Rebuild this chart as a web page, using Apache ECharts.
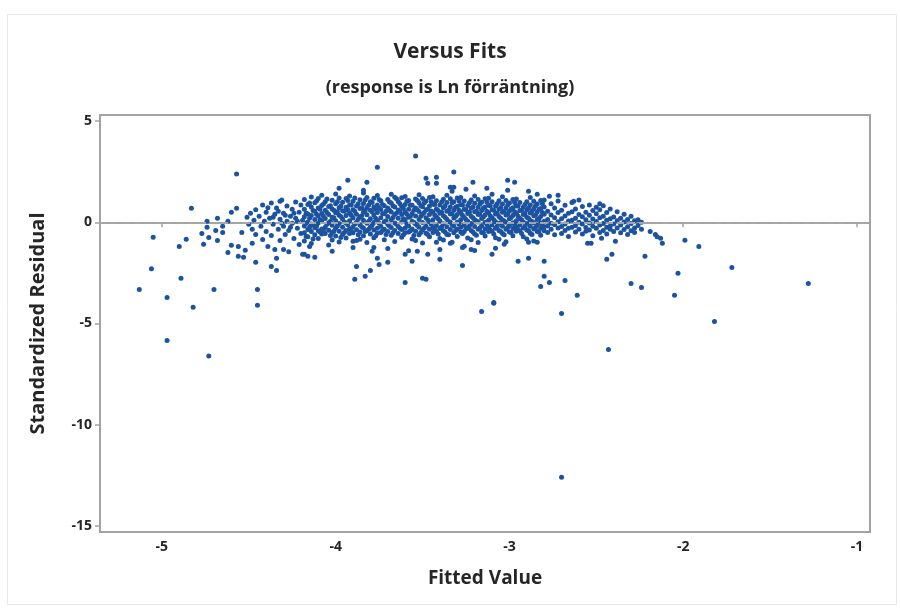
<!DOCTYPE html>
<html>
<head>
<meta charset="utf-8">
<script src="https://cdn.jsdelivr.net/npm/echarts@6/dist/echarts.min.js"></script>
<style>html,body{margin:0;padding:0;background:#fff}#c{width:900px;height:608px}</style>
</head>
<body>
<div id="c"></div>
<script>
const titleText = 'Versus Fits';
const subtitleText = '(response is Ln förräntning)';
const xAxisName = 'Fitted Value';
const yAxisName = 'Standardized Residual';
const xTicks = [-5, -4, -3, -2, -1];
const yTicks = [5, 0, -5, -10, -15];
const refLineValue = 0;

// outlying points
const outliers = [
[-5.13,-3.32],[-5.05,-0.74],[-5.06,-2.30],[-4.97,-3.71],[-4.97,-5.84],[-4.89,-2.77],[-4.90,-1.19],[-4.86,-0.84],
[-4.83,0.69],[-4.70,-3.32],[-4.57,2.38],[-4.82,-4.20],[-4.45,-4.10],[-4.45,-3.32],[-4.73,-6.60],
[-4.46,-1.98],[-4.37,-2.18],[-4.34,-2.38],[-4.34,-1.78],[-4.30,-1.34],[-4.27,-1.45],[-4.19,-1.58],[-4.16,-1.68],
[-4.12,-1.73],[-4.02,-1.43],[-3.88,-2.18],[-3.89,-2.82],[-3.83,-2.67],[-3.80,-2.38],[-3.60,-2.97],[-3.50,-2.77],
[-3.48,-2.82],[-3.27,-2.13],[-3.09,-3.96],[-3.16,-4.41],[-3.09,-4.00],[-2.70,-4.50],[-2.61,-3.61],[-2.05,-3.61],
[-1.82,-4.90],[-2.43,-6.29],[-2.70,-12.60],[-1.28,-3.02],[-1.72,-2.23],[-2.03,-2.52],[-2.30,-3.02],[-2.24,-3.22],
[-2.80,-2.67],[-2.82,-3.17],[-2.77,-2.97],[-2.68,-2.87],[-1.99,-0.89],[-1.91,-1.19],[-2.12,-1.04],[-2.13,-0.79],
[-2.16,-0.60],[-2.19,-0.45],[-2.15,-0.72],
[-4.18,-1.58],[-4.15,-1.19],[-3.90,-0.94],[-3.79,-1.43],[-3.76,-1.78],[-3.75,-2.08],[-3.70,-1.98],[-3.60,-1.58],
[-3.56,-1.93],[-3.53,-1.43],[-3.47,-1.58],[-3.40,-1.83],[-3.42,-0.99],[-3.33,-0.99],[-3.27,-1.24],[-3.22,-1.34],
[-3.20,-1.39],[-3.10,-1.58],[-3.78,-1.24],[-3.03,-1.09],[-2.95,-1.93],[-2.89,-1.78],[-2.89,-0.99],[-2.84,-0.99],
[-2.80,-1.93],[-2.55,-1.04],[-2.53,-1.04],[-2.47,-0.79],[-2.44,-1.83],[-2.41,-1.58],[-2.39,-0.94],[-2.22,-1.68],
[-3.54,3.27],[-3.76,2.72],[-3.93,2.08],[-3.82,1.98],[-3.98,1.68],[-3.32,2.48],[-3.48,2.18],[-3.42,2.23],
[-3.47,1.93],[-3.42,1.93],[-3.34,1.73],[-3.32,1.73],[-3.21,1.98],[-3.84,1.58],[-3.13,1.68],[-3.33,1.53],
[-3.25,1.63],[-3.10,1.39],[-4.32,1.04],[-3.01,2.08],[-2.97,1.98],[-3.01,1.58],[-2.89,1.53],[-2.84,1.39],
[-2.77,1.29],[-2.72,1.34],[-2.63,1.04],[-2.48,0.92]
];

// sparse left part of the cloud
const leftCloud = [
[-4.74,0.05],[-4.74,-0.25],[-4.77,-0.55],[-4.76,-1.09],[-4.73,-0.75],[-4.68,0.20],[-4.69,-0.40],[-4.68,-0.90],
[-4.65,-0.20],[-4.65,-0.50],[-4.62,0.05],[-4.62,-1.49],[-4.60,-1.14],[-4.60,0.50],[-4.57,0.69],[-4.56,-1.19],
[-4.56,-1.68],[-4.54,-0.50],[-4.53,-1.73],[-4.52,-1.38],[-4.48,-1.04],[-4.51,0.25],[-4.50,-0.10],[-4.49,0.45],
[-4.48,-0.35],[-4.47,0.10],[-4.46,0.62],[-4.46,-0.60],[-4.44,0.30],[-4.43,-0.20],[-4.42,0.85],[-4.42,-0.85],
[-4.41,0.05],[-4.40,0.50],[-4.40,-0.45],[-4.39,-1.20],[-4.38,0.20],[-4.37,0.95],[-4.37,-0.65],[-4.36,-0.10],
[-4.35,0.40],[-4.35,-1.35],[-4.34,0.70],[-4.33,-0.35],[-4.32,0.15],[-4.32,-0.90],[-4.31,1.10],[-4.30,0.45],
[-4.30,-0.20],[-4.29,-0.60],[-4.28,0.80],[-4.28,0.05],[-4.27,-0.40],[-4.26,0.30],[-4.25,0.65],[-4.25,-0.05],
[-4.24,-0.80],[-4.23,1.00],[-4.23,0.20],[-4.22,-0.30],[-4.21,0.50],[-4.21,-1.10],[-4.20,0.85],[-4.20,-0.55],
[-4.19,0.10],[-4.39,0.72],[-4.36,0.25],[-4.33,0.55],[-4.31,-0.05],[-4.29,0.35],[-4.26,-0.25],[-4.24,0.45],[-4.22,0.05]
];

// dense core of the cloud
const coreCloud = [
[-4.18,1.12],[-4.18,0.64],[-4.18,0.27],[-4.18,-0.18],[-4.18,-0.52],[-4.18,-0.93],
[-4.16,0.88],[-4.16,0.41],[-4.16,0.02],[-4.16,-0.36],[-4.16,-0.71],
[-4.14,1.25],[-4.14,0.75],[-4.14,0.33],[-4.14,-0.08],[-4.14,-0.45],[-4.14,-1.05],
[-4.12,0.96],[-4.12,0.55],[-4.12,0.14],[-4.12,-0.27],[-4.12,-0.62],
[-4.10,0.70],[-4.10,0.31],[-4.10,-0.04],[-4.10,-0.42],[-4.10,-0.80],[-4.10,1.18],
[-4.08,1.34],[-4.08,0.83],[-4.08,0.44],[-4.08,0.06],[-4.08,-0.33],[-4.08,-0.58],
[-4.06,0.60],[-4.06,0.19],[-4.06,-0.24],[-4.06,-0.55],[-4.06,1.02],
[-4.04,0.78],[-4.04,0.38],[-4.04,-0.02],[-4.04,-0.39],[-4.04,-1.12],
[-4.02,1.09],[-4.02,0.66],[-4.02,0.25],[-4.02,-0.15],[-4.02,-0.50],[-4.02,-0.88],
[-4.00,0.91],[-4.00,0.47],[-4.00,0.08],[-4.00,-0.30],[-4.00,-0.68],[-4.00,1.40],
[-3.98,1.20],[-3.98,0.72],[-3.98,0.35],[-3.98,-0.06],[-3.98,-0.44],[-3.98,-0.97],
[-3.96,0.99],[-3.96,0.57],[-3.96,0.16],[-3.96,-0.25],[-3.96,-0.60],
[-3.94,0.74],[-3.94,0.34],[-3.94,-0.03],[-3.94,-0.40],[-3.94,-0.78],[-3.94,1.17],
[-3.92,1.30],[-3.92,0.85],[-3.92,0.46],[-3.92,0.07],[-3.92,-0.32],[-3.92,-0.56],
[-3.90,0.62],[-3.90,0.21],[-3.90,-0.22],[-3.90,-0.52],[-3.90,1.04],[-3.90,-1.25],
[-3.88,0.80],[-3.88,0.40],[-3.88,0.00],[-3.88,-0.37],[-3.88,-0.90],
[-3.86,1.11],[-3.86,0.68],[-3.86,0.27],[-3.86,-0.13],[-3.86,-0.48],[-3.86,-0.84],
[-3.84,0.93],[-3.84,0.49],[-3.84,0.10],[-3.84,-0.28],[-3.84,-0.66],[-3.84,1.45],
[-3.82,1.22],[-3.82,0.73],[-3.82,0.37],[-3.82,-0.05],[-3.82,-0.42],[-3.82,-1.00],
[-3.80,1.01],[-3.80,0.59],[-3.80,0.18],[-3.80,-0.23],[-3.80,-0.58],
[-3.78,0.76],[-3.78,0.36],[-3.78,-0.01],[-3.78,-0.38],[-3.78,-0.76],[-3.78,1.19],
[-3.76,1.32],[-3.76,0.86],[-3.76,0.48],[-3.76,0.09],[-3.76,-0.30],[-3.76,-0.54],
[-3.74,0.63],[-3.74,0.23],[-3.74,-0.20],[-3.74,-0.50],[-3.74,1.06],
[-3.72,0.82],[-3.72,0.42],[-3.72,0.03],[-3.72,-0.35],[-3.72,-0.86],
[-3.70,1.13],[-3.70,0.70],[-3.70,0.29],[-3.70,-0.11],[-3.70,-0.46],[-3.70,-1.30],
[-3.68,0.95],[-3.68,0.51],[-3.68,0.12],[-3.68,-0.26],[-3.68,-0.64],[-3.68,1.38],
[-3.66,1.24],[-3.66,0.75],[-3.66,0.39],[-3.66,-0.03],[-3.66,-0.40],[-3.66,-0.95],
[-3.64,1.03],[-3.64,0.61],[-3.64,0.20],[-3.64,-0.21],[-3.64,-0.56],
[-3.62,0.78],[-3.62,0.38],[-3.62,0.01],[-3.62,-0.36],[-3.62,-0.74],[-3.62,1.21],
[-3.60,1.28],[-3.60,0.88],[-3.60,0.50],[-3.60,0.11],[-3.60,-0.28],[-3.60,-0.52],
[-3.58,0.65],[-3.58,0.25],[-3.58,-0.18],[-3.58,-0.48],[-3.58,1.08],[-3.58,-1.40],
[-3.56,0.84],[-3.56,0.44],[-3.56,0.05],[-3.56,-0.33],[-3.56,-0.82],
[-3.54,1.15],[-3.54,0.71],[-3.54,0.31],[-3.54,-0.09],[-3.54,-0.44],[-3.54,-0.90],
[-3.52,0.97],[-3.52,0.53],[-3.52,0.14],[-3.52,-0.24],[-3.52,-0.62],[-3.52,1.36],
[-3.50,1.18],[-3.50,0.77],[-3.50,0.40],[-3.50,-0.01],[-3.50,-0.38],[-3.50,-1.02],
[-3.48,1.05],[-3.48,0.62],[-3.48,0.22],[-3.48,-0.19],[-3.48,-0.54],
[-3.46,0.80],[-3.46,0.39],[-3.46,0.03],[-3.46,-0.34],[-3.46,-0.72],[-3.46,1.22],
[-3.44,1.26],[-3.44,0.89],[-3.44,0.51],[-3.44,0.13],[-3.44,-0.26],[-3.44,-0.50],
[-3.42,0.66],[-3.42,0.26],[-3.42,-0.16],[-3.42,-0.46],[-3.42,1.07],
[-3.40,0.85],[-3.40,0.45],[-3.40,0.06],[-3.40,-0.31],[-3.40,-0.80],[-3.40,-1.35],
[-3.38,1.14],[-3.38,0.72],[-3.38,0.32],[-3.38,-0.07],[-3.38,-0.42],[-3.38,-0.88],
[-3.36,0.98],[-3.36,0.54],[-3.36,0.15],[-3.36,-0.22],[-3.36,-0.60],[-3.36,1.34],
[-3.34,1.16],[-3.34,0.76],[-3.34,0.41],[-3.34,0.00],[-3.34,-0.36],[-3.34,-1.04],
[-3.32,1.02],[-3.32,0.60],[-3.32,0.21],[-3.32,-0.18],[-3.32,-0.52],
[-3.30,0.79],[-3.30,0.38],[-3.30,0.02],[-3.30,-0.33],[-3.30,-0.70],[-3.30,1.20],
[-3.28,1.23],[-3.28,0.87],[-3.28,0.49],[-3.28,0.12],[-3.28,-0.25],[-3.28,-0.48],
[-3.26,0.64],[-3.26,0.24],[-3.26,-0.15],[-3.26,-0.45],[-3.26,1.05],[-3.26,-1.18],
[-3.24,0.83],[-3.24,0.43],[-3.24,0.05],[-3.24,-0.30],[-3.24,-0.78],
[-3.22,1.10],[-3.22,0.69],[-3.22,0.30],[-3.22,-0.06],[-3.22,-0.41],[-3.22,-0.86],
[-3.20,0.94],[-3.20,0.52],[-3.20,0.13],[-3.20,-0.21],[-3.20,-0.58],[-3.20,1.30],
[-3.18,1.12],[-3.18,0.74],[-3.18,0.39],[-3.18,0.01],[-3.18,-0.35],[-3.18,-1.00],
[-3.16,0.99],[-3.16,0.58],[-3.16,0.19],[-3.16,-0.17],[-3.16,-0.50],
[-3.14,0.76],[-3.14,0.36],[-3.14,0.00],[-3.14,-0.32],[-3.14,-0.68],[-3.14,1.16],
[-3.12,1.19],[-3.12,0.84],[-3.12,0.47],[-3.12,0.10],[-3.12,-0.24],[-3.12,-0.46],
[-3.10,0.62],[-3.10,0.22],[-3.10,-0.14],[-3.10,-0.44],[-3.10,1.02],
[-3.08,0.80],[-3.08,0.41],[-3.08,0.03],[-3.08,-0.29],[-3.08,-0.76],[-3.08,-1.28],
[-3.06,1.06],[-3.06,0.66],[-3.06,0.28],[-3.06,-0.05],[-3.06,-0.40],[-3.06,-0.84],
[-3.04,0.90],[-3.04,0.50],[-3.04,0.11],[-3.04,-0.20],[-3.04,-0.56],[-3.04,1.26],
[-3.02,1.08],[-3.02,0.71],[-3.02,0.36],[-3.02,0.00],[-3.02,-0.34],[-3.02,-0.96],
[-3.00,0.95],[-3.00,0.55],[-3.00,0.17],[-3.00,-0.16],[-3.00,-0.48],
[-2.98,0.72],[-2.98,0.33],[-2.98,-0.02],[-2.98,-0.31],[-2.98,-0.66],[-2.98,1.12],
[-2.96,1.15],[-2.96,0.80],[-2.96,0.44],[-2.96,0.08],[-2.96,-0.23],[-2.96,-0.44],
[-2.94,0.58],[-2.94,0.19],[-2.94,-0.13],[-2.94,-0.42],[-2.94,0.98],
[-2.92,0.76],[-2.92,0.38],[-2.92,0.01],[-2.92,-0.28],[-2.92,-0.72],
[-2.90,1.02],[-2.90,0.62],[-2.90,0.25],[-2.90,-0.06],[-2.90,-0.38],[-2.90,-0.82],
[-2.88,0.86],[-2.88,0.46],[-2.88,0.09],[-2.88,-0.19],[-2.88,-0.54],[-2.88,1.22],
[-2.86,1.04],[-2.86,0.67],[-2.86,0.32],[-2.86,-0.02],[-2.86,-0.33],[-2.86,-0.92],
[-2.84,0.90],[-2.84,0.51],[-2.84,0.14],[-2.84,-0.15],[-2.84,-0.46],
[-2.82,0.68],[-2.82,0.29],[-2.82,-0.04],[-2.82,-0.30],[-2.82,-0.64],[-2.82,1.08],
[-2.80,1.10],[-2.80,0.76],[-2.80,0.40],[-2.80,0.05],[-2.80,-0.22],[-2.80,-0.42]
];

// second, staggered layer of the dense core
const coreFill = [
[-4.17,0.45],[-4.17,-0.05],[-4.17,-0.70],[-4.15,0.95],[-4.15,0.20],[-4.15,-0.25],
[-4.13,0.58],[-4.13,-0.12],[-4.13,-0.82],[-4.11,1.05],[-4.11,0.40],[-4.11,-0.20],
[-4.09,0.65],[-4.09,0.12],[-4.09,-0.48],[-4.07,0.90],[-4.07,0.30],[-4.07,-0.38],
[-4.05,1.15],[-4.05,0.48],[-4.05,-0.10],[-4.03,0.82],[-4.03,0.05],[-4.03,-0.65],
[-4.01,0.60],[-4.01,0.22],[-4.01,-0.44],[-3.99,1.02],[-3.99,0.52],[-3.99,-0.18],
[-3.97,0.80],[-3.97,0.28],[-3.97,-0.75],[-3.95,0.55],[-3.95,0.02],[-3.95,-0.50],
[-3.93,1.08],[-3.93,0.62],[-3.93,-0.12],[-3.91,0.86],[-3.91,0.35],[-3.91,-0.40],
[-3.89,1.20],[-3.89,0.55],[-3.89,-0.08],[-3.87,0.92],[-3.87,0.15],[-3.87,-0.62],
[-3.85,0.72],[-3.85,0.32],[-3.85,-0.22],[-3.83,1.10],[-3.83,0.58],[-3.83,-0.46],
[-3.81,0.85],[-3.81,0.05],[-3.81,-0.35],[-3.79,0.98],[-3.79,0.52],[-3.79,-0.15],
[-3.77,0.66],[-3.77,0.20],[-3.77,-0.68],[-3.75,1.12],[-3.75,0.70],[-3.75,-0.05],
[-3.73,0.88],[-3.73,0.42],[-3.73,-0.40],[-3.71,0.55],[-3.71,0.08],[-3.71,-0.60],
[-3.69,1.00],[-3.69,0.60],[-3.69,-0.20],[-3.67,0.82],[-3.67,0.24],[-3.67,-0.52],
[-3.65,1.16],[-3.65,0.45],[-3.65,-0.10],[-3.63,0.92],[-3.63,0.55],[-3.63,-0.30],
[-3.61,0.68],[-3.61,0.18],[-3.61,-0.62],[-3.59,1.04],[-3.59,0.40],[-3.59,-0.08],
[-3.57,0.86],[-3.57,0.28],[-3.57,-0.42],[-3.55,0.60],[-3.55,0.00],[-3.55,-0.65],
[-3.53,1.08],[-3.53,0.62],[-3.53,-0.16],[-3.51,0.82],[-3.51,0.30],[-3.51,-0.50],
[-3.49,0.95],[-3.49,0.48],[-3.49,-0.28],[-3.47,0.64],[-3.47,0.12],[-3.47,-0.60],
[-3.45,1.02],[-3.45,0.56],[-3.45,-0.10],[-3.43,0.88],[-3.43,0.36],[-3.43,-0.36],
[-3.41,0.58],[-3.41,0.18],[-3.41,-0.58],[-3.39,1.00],[-3.39,0.50],[-3.39,-0.22],
[-3.37,0.80],[-3.37,0.25],[-3.37,-0.48],[-3.35,0.60],[-3.35,0.04],[-3.35,-0.62],
[-3.33,0.96],[-3.33,0.42],[-3.33,-0.12],[-3.31,0.74],[-3.31,0.28],[-3.31,-0.40],
[-3.29,1.05],[-3.29,0.60],[-3.29,-0.08],[-3.27,0.85],[-3.27,0.35],[-3.27,-0.55],
[-3.25,0.62],[-3.25,0.14],[-3.25,-0.32],[-3.23,0.96],[-3.23,0.50],[-3.23,-0.18],
[-3.21,0.76],[-3.21,0.22],[-3.21,-0.48],[-3.19,0.55],[-3.19,0.06],[-3.19,-0.64],
[-3.17,0.90],[-3.17,0.40],[-3.17,-0.28],[-3.15,0.70],[-3.15,0.26],[-3.15,-0.52],
[-3.13,1.00],[-3.13,0.55],[-3.13,-0.10],[-3.11,0.82],[-3.11,0.32],[-3.11,-0.38],
[-3.09,0.60],[-3.09,0.12],[-3.09,-0.58],[-3.07,0.92],[-3.07,0.46],[-3.07,-0.20],
[-3.05,0.72],[-3.05,0.20],[-3.05,-0.46],[-3.03,0.55],[-3.03,0.06],[-3.03,-0.62],
[-3.01,0.86],[-3.01,0.40],[-3.01,-0.26],[-2.99,0.66],[-2.99,0.24],[-2.99,-0.50],
[-2.97,0.98],[-2.97,0.52],[-2.97,-0.12],[-2.95,0.80],[-2.95,0.30],[-2.95,-0.36],
[-2.93,0.60],[-2.93,0.12],[-2.93,-0.56],[-2.91,0.88],[-2.91,0.44],[-2.91,-0.20],
[-2.89,0.70],[-2.89,0.20],[-2.89,-0.42],[-2.87,0.55],[-2.87,0.04],[-2.87,-0.60],
[-2.85,0.82],[-2.85,0.36],[-2.85,-0.26],[-2.83,0.64],[-2.83,0.18],[-2.83,-0.48],
[-2.81,0.92],[-2.81,0.48],[-2.81,-0.12]
];

// thinning right part of the cloud
const rightCloud = [
[-2.78,0.55],[-2.78,0.14],[-2.78,-0.18],[-2.78,-0.50],
[-2.76,0.92],[-2.76,0.36],[-2.76,-0.05],[-2.76,-0.34],
[-2.74,0.70],[-2.74,0.22],[-2.74,-0.12],[-2.74,-0.62],
[-2.72,1.05],[-2.72,0.48],[-2.72,0.03],[-2.72,-0.28],
[-2.70,0.60],[-2.70,0.17],[-2.70,-0.21],[-2.70,-0.55],
[-2.68,0.84],[-2.68,0.31],[-2.68,-0.09],[-2.68,-0.40],
[-2.66,0.45],[-2.66,0.06],[-2.66,-0.30],[-2.66,-0.70],
[-2.64,0.98],[-2.64,0.52],[-2.64,0.10],[-2.64,-0.24],
[-2.62,0.66],[-2.62,0.20],[-2.62,-0.16],[-2.62,-0.48],
[-2.60,0.38],[-2.60,0.00],[-2.60,-0.35],[-2.60,1.10],
[-2.58,0.78],[-2.58,0.27],[-2.58,-0.08],[-2.58,-0.58],
[-2.56,0.50],[-2.56,0.12],[-2.56,-0.26],[-2.56,-0.44],
[-2.54,0.86],[-2.54,0.35],[-2.54,-0.04],[-2.54,-0.38],
[-2.52,0.58],[-2.52,0.16],[-2.52,-0.20],[-2.52,-0.66],
[-2.50,0.42],[-2.50,0.04],[-2.50,-0.30],[-2.50,0.74],
[-2.48,0.62],[-2.48,0.22],[-2.48,-0.14],[-2.48,-0.50],
[-2.46,0.30],[-2.46,-0.06],[-2.46,-0.40],[-2.46,0.82],
[-2.44,0.48],[-2.44,0.10],[-2.44,-0.24],[-2.44,-0.58],
[-2.42,0.66],[-2.42,0.18],[-2.42,-0.18],[-2.42,-0.34],
[-2.40,0.26],[-2.40,-0.08],[-2.40,-0.46],
[-2.38,0.52],[-2.38,0.08],[-2.38,-0.28],
[-2.36,0.20],[-2.36,-0.14],[-2.36,-0.52],
[-2.34,0.40],[-2.34,0.02],[-2.34,-0.36],
[-2.32,0.14],[-2.32,-0.22],[-2.32,-0.60],
[-2.30,0.30],[-2.30,-0.06],[-2.30,-0.42],
[-2.28,0.08],[-2.28,-0.28],[-2.28,-0.50],
[-2.26,0.12],[-2.26,-0.16],
[-2.24,0.00],[-2.24,-0.34]
];

const allPoints = outliers.concat(leftCloud, coreCloud, coreFill, rightCloud);

const chart = echarts.init(document.getElementById('c'), null, {renderer: 'canvas'});
const FONT = 'Open Sans';
const txt = '#262626';
const frame = '#a3a3a3';

chart.setOption({
  animation: false,
  backgroundColor: '#ffffff',
  graphic: [{
    type: 'rect', left: 5, top: 12, shape: {width: 889, height: 590},
    style: {fill: 'none', stroke: '#e8e8e8', lineWidth: 1}, silent: true, z: -10
  }],
  title: [
    {text: titleText, left: 'center', top: 37,
     textStyle: {fontFamily: FONT, fontSize: 21, fontWeight: 'bold', color: txt}},
    {text: subtitleText, left: 'center', top: 74,
     textStyle: {fontFamily: FONT, fontSize: 18, fontWeight: 'bold', color: txt}}
  ],
  grid: {left: 100, right: 30, top: 115, bottom: 76, show: true,
         borderColor: frame, borderWidth: 2, backgroundColor: 'transparent'},
  xAxis: {
    type: 'value', min: -5.356, max: -0.925,
    name: xAxisName, nameLocation: 'middle', nameGap: 37,
    nameTextStyle: {fontFamily: FONT, fontSize: 19, fontWeight: 'bold', color: txt},
    axisLine: {show: true, lineStyle: {color: frame, width: 2}},
    axisTick: {show: true, length: 5, lineStyle: {color: frame, width: 1.5}, customValues: xTicks},
    axisLabel: {fontFamily: FONT, fontSize: 14, fontWeight: 'bold', color: txt, margin: 8,
                customValues: xTicks, formatter: v => String(v)},
    splitLine: {show: false}
  },
  yAxis: {
    type: 'value', min: -15.3, max: 5.3,
    name: yAxisName, nameLocation: 'middle', nameGap: 52, nameRotate: 90,
    nameTextStyle: {fontFamily: FONT, fontSize: 20, fontWeight: 'bold', color: txt},
    axisLine: {show: true, lineStyle: {color: frame, width: 2}},
    axisTick: {show: true, length: 5, lineStyle: {color: frame, width: 1.5}, customValues: yTicks},
    axisLabel: {fontFamily: FONT, fontSize: 14, fontWeight: 'bold', color: txt, margin: 8,
                customValues: yTicks, formatter: v => String(v)},
    splitLine: {show: false}
  },
  series: [{
    type: 'scatter',
    data: allPoints,
    symbol: 'circle',
    symbolSize: 5,
    itemStyle: {color: '#1c53a0', opacity: 1},
    silent: true,
    markLine: {
      silent: true, symbol: 'none', label: {show: false},
      lineStyle: {color: '#a6a6a6', type: [7, 4], width: 2},
      data: [{yAxis: refLineValue}]
    },
    z: 3
  }]
});
</script>
</body>
</html>
